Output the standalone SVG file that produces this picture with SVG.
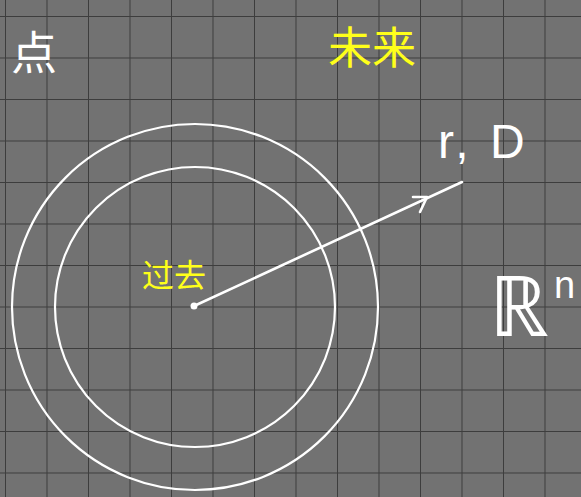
<svg xmlns="http://www.w3.org/2000/svg" width="581" height="497" viewBox="0 0 581 497">
<style>
.grid{stroke:#3d3d3d;stroke-width:2}
.ring{fill:none;stroke:#ffffff;stroke-width:2.2}
.conn{fill:none;stroke:#ffffff;stroke-width:2.6;stroke-linecap:round;stroke-linejoin:round}
.w{fill:#ffffff;font-family:"Liberation Sans","Noto Sans CJK SC",sans-serif}
.y{fill:#ffff1a;font-family:"Noto Sans CJK SC",sans-serif}
</style>
<defs>
<pattern id="g" x="5" y="16" width="41.5" height="41.5" patternUnits="userSpaceOnUse">
<path class="grid" d="M0 0V41.5M0 0H41.5"/>
</pattern>
</defs>
<rect width="581" height="497" fill="#727272"/>
<rect width="581" height="497" fill="url(#g)"/>
<g id="outer-circle"><circle class="ring" cx="195" cy="307" r="183"/></g>
<g id="inner-circle"><circle class="ring" cx="195" cy="307" r="140"/></g>
<g id="connectors">
<path class="conn" d="M194 306L462 182"/>
<path class="conn" d="M413 197L427 197L420 212"/>
</g>
<g id="center"><circle cx="194" cy="306" r="3.5" fill="#ffffff"/></g>
<g id="point-label"><text class="w" x="11" y="69" font-size="46" font-family="Noto Sans CJK SC">点</text></g>
<g id="future-label"><text class="y" x="328" y="64" font-size="44">未来</text></g>
<g id="past-label"><text class="y" x="142" y="287" font-size="32">过去</text></g>
<g id="rD-label"><text class="w" x="438" y="158" font-size="48" letter-spacing="4">r, D</text></g>
<g id="Rn-label"><text class="w" x="489" y="336" font-size="84" font-family="DejaVu Sans">ℝ</text><text class="w" x="554" y="298" font-size="38">n</text></g>
</svg>
